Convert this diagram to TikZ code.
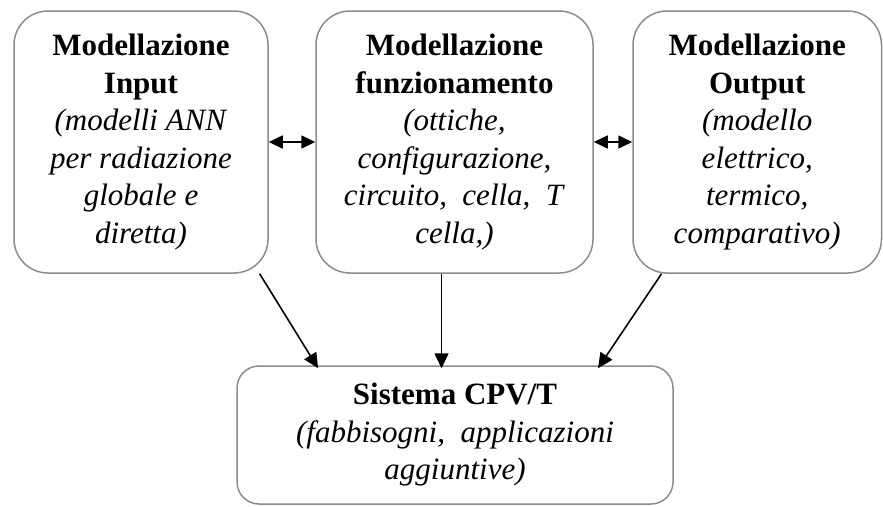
\documentclass[tikz,border=0pt]{standalone}
\usepackage{fontspec}
\setmainfont{Liberation Serif}
\usetikzlibrary{arrows.meta}

\begin{document}
\begin{tikzpicture}[x=1pt,y=-1pt,
    blocco/.style={draw=gray!90,line width=1.5pt,rounded corners=34pt,
      align=center,inner sep=0pt,font=\fontsize{31}{37.5}\selectfont},
    freccia/.style={line width=1.6pt,-{Triangle[length=15pt,width=14pt]}},
    doppia/.style={line width=1.6pt,
      {Triangle[length=14pt,width=13pt]}-{Triangle[length=14pt,width=13pt]}}]
  \useasboundingbox (0,0) rectangle (883,506);
  % i tre moduli di modellazione
  \node[blocco,minimum width=254pt,minimum height=262pt] (input) at (141,142)
    {\textbf{Modellazione}\\ \textbf{Input}\\ \textit{(modelli ANN}\\
     \textit{per radiazione}\\ \textit{globale e}\\ \textit{diretta)}};
  \node[blocco,minimum width=277pt,minimum height=262pt] (funz) at (454.5,142)
    {\textbf{Modellazione}\\ \textbf{funzionamento}\\ \textit{(ottiche,}\\
     \textit{configurazione,}\\ \textit{circuito,\ \ cella,\ \ T}\\ \textit{cella,)}};
  \node[blocco,minimum width=248.5pt,minimum height=262pt] (output) at (757.25,142)
    {\textbf{Modellazione}\\ \textbf{Output}\\ \textit{(modello}\\
     \textit{elettrico,}\\ \textit{termico,}\\ \textit{comparativo)}};
  % sistema finale
  \node[blocco,rounded corners=22pt,minimum width=436pt,minimum height=138pt]
    (cpvt) at (455,435)
    {\textbf{Sistema CPV/T}\\ \textit{(fabbisogni,\ \ applicazioni}\\
     \textit{aggiuntive)}};
  % collegamenti
  \draw[doppia] (input.east) -- (funz.west) ;
  \draw[doppia] (funz.east) -- (output.west) ;
  \draw[freccia] (input.-48) -- ([yshift=-3pt]cpvt.153.4) ;
  \draw[freccia] ([xshift=-13pt]funz.south) -- ([xshift=-13pt,yshift=-3pt]funz.south |- cpvt.north) ;
  \draw[freccia] (output.234) -- ([yshift=-3pt]cpvt.26.6) ;
\end{tikzpicture}
\end{document}
